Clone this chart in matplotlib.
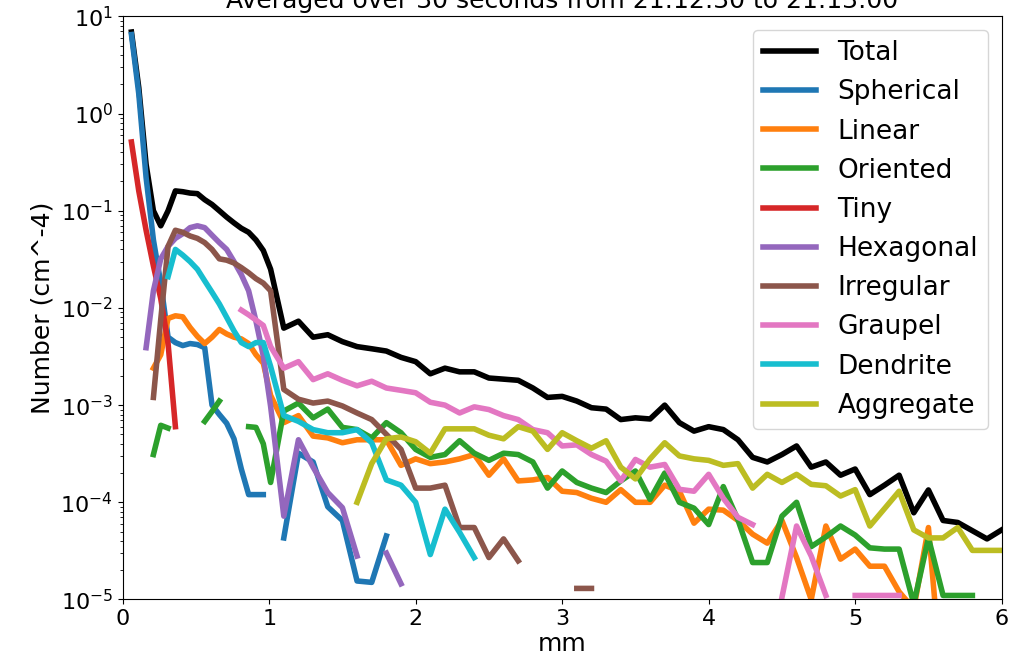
import numpy as np
import matplotlib
matplotlib.use("Agg")
import matplotlib.pyplot as plt

nan = np.nan

# particle size (mm): fine bins below 1 mm, 0.1 mm bins above
size_mm = [0.06, 0.11, 0.16, 0.21, 0.26, 0.31, 0.36, 0.41, 0.46, 0.51,
           0.56, 0.61, 0.66, 0.71, 0.76, 0.81, 0.86, 0.91, 0.96, 1.01,
           1.1, 1.2, 1.3, 1.4, 1.5, 1.6, 1.7, 1.8, 1.9, 2.0,
           2.1, 2.2, 2.3, 2.4, 2.5, 2.6, 2.7, 2.8, 2.9, 3.0,
           3.1, 3.2, 3.3, 3.4, 3.5, 3.6, 3.7, 3.8, 3.9, 4.0,
           4.1, 4.2, 4.3, 4.4, 4.5, 4.6, 4.7, 4.8, 4.9, 5.0,
           5.1, 5.2, 5.3, 5.4, 5.5, 5.6, 5.7, 5.8, 5.9, 6.0]

total = [6.9, 1.85, 0.30, 0.10, 0.07, 0.10, 0.16, 0.157, 0.152, 0.15,
         0.13, 0.116, 0.10, 0.086, 0.075, 0.066, 0.06, 0.05, 0.039, 0.025,
         0.0062, 0.0073, 0.0050, 0.0053, 0.0045, 0.0040, 0.0038, 0.0036, 0.0031, 0.0028,
         0.0021, 0.0024, 0.0022, 0.0022, 0.0019, 0.00185, 0.0018, 0.0015, 0.0012, 0.00123,
         0.0011, 0.00094, 0.00091, 0.00071, 0.00074, 0.00072, 0.0010, 0.00066, 0.00054, 0.0006,
         0.00056, 0.00044, 0.00029, 0.00026, 0.00031, 0.00038, 0.00023, 0.00026, 0.00019, 0.00022,
         0.00012, 0.00015, 0.00019, 7.8e-5, 0.000134, 6.5e-5, 6.2e-5, 5.1e-5, 4.2e-5, 5.2e-5]

spherical = [6.5, 1.6, 0.22, 0.05, 0.018, 0.005, 0.0044, 0.0041, 0.0043, 0.0042,
             0.0039, 0.001, 0.0008, 0.00065, 0.00045, 0.00022, 0.00012, 0.00012, 0.00012, nan,
             4.3e-5, 3.2e-4, 2.6e-4, 9e-5, 6.5e-5, 1.55e-5, 1.5e-5, 4.5e-5, nan, nan,
             nan, nan, nan, nan, nan, nan, nan, nan, nan, nan,
             nan, nan, nan, nan, nan, nan, nan, nan, nan, nan,
             nan, nan, nan, nan, nan, nan, nan, nan, nan, nan,
             nan, nan, nan, nan, nan, nan, nan, nan, nan, nan]

linear = [nan, nan, nan, 0.0024, 0.0033, 0.0078, 0.0083, 0.0081, 0.0063, 0.0051,
          0.0043, 0.005, 0.006, 0.0054, 0.005, 0.0048, 0.0043, 0.0033, 0.0027, 0.00126,
          6.6e-4, 7.8e-4, 4.8e-4, 4.6e-4, 4.1e-4, 4.4e-4, 4.4e-4, 4.4e-4, 2.4e-4, 2.8e-4,
          2.5e-4, 2.6e-4, 2.8e-4, 3.1e-4, 1.9e-4, 2.8e-4, 1.66e-4, 1.7e-4, 1.8e-4, 1.3e-4,
          1.26e-4, 1.1e-4, 1.0e-4, 1.35e-4, 1.0e-4, 1.0e-4, 1.5e-4, 1.3e-4, 6.1e-5, 8.5e-5,
          8.3e-5, 6.5e-5, 4.7e-5, 3.8e-5, 6.5e-5, 2.7e-5, 1.0e-5, 5.7e-5, 2.6e-5, 3.3e-5,
          2.2e-5, 2.2e-5, 1.2e-5, 8e-6, 5.5e-5, 1e-6, nan, nan, nan, nan]

oriented = [nan, nan, nan, 3.1e-4, 6.2e-4, 5.8e-4, nan, nan, nan, nan,
            6.8e-4, 8.6e-4, 1.1e-3, nan, nan, nan, 6.0e-4, 5.9e-4, 4.0e-4, 1.6e-4,
            8.7e-4, 1.05e-3, 7.4e-4, 9.1e-4, 5.9e-4, 5.6e-4, 4.6e-4, 6.6e-4, 5.2e-4, 3.5e-4,
            2.9e-4, 3.1e-4, 4.3e-4, 3.2e-4, 2.7e-4, 3.2e-4, 3.1e-4, 2.6e-4, 1.4e-4, 2.1e-4,
            1.6e-4, 1.4e-4, 1.26e-4, 1.66e-4, 2.1e-4, 1.07e-4, 2.0e-4, 1.0e-4, 8.7e-5, 5.9e-5,
            1.45e-4, 6.6e-5, 2.4e-5, 2.4e-5, 7.2e-5, 1.0e-4, 3.5e-5, 4.4e-5, 5.7e-5, 4.6e-5,
            3.4e-5, 3.3e-5, 3.3e-5, 9e-6, 4.3e-5, 1.1e-5, 1.1e-5, 1.1e-5, nan, nan]

tiny = [0.51, 0.16, 0.063, 0.027, 0.0125, 0.0043, 0.0006, nan, nan, nan,
        nan, nan, nan, nan, nan, nan, nan, nan, nan, nan,
        nan, nan, nan, nan, nan, nan, nan, nan, nan, nan,
        nan, nan, nan, nan, nan, nan, nan, nan, nan, nan,
        nan, nan, nan, nan, nan, nan, nan, nan, nan, nan,
        nan, nan, nan, nan, nan, nan, nan, nan, nan, nan,
        nan, nan, nan, nan, nan, nan, nan, nan, nan, nan]

hexagonal = [nan, nan, 0.0039, 0.015, 0.032, 0.043, 0.052, 0.058, 0.067, 0.07,
             0.067, 0.056, 0.047, 0.04, 0.03, 0.022, 0.015, 0.0073, 0.0032, 0.00097,
             7.2e-5, 4.4e-4, 2.3e-4, 1.26e-4, 8.8e-5, 2.8e-5, nan, 3.0e-5, 1.45e-5, nan,
             nan, nan, nan, nan, nan, nan, nan, nan, nan, nan,
             nan, nan, nan, nan, nan, nan, nan, nan, nan, nan,
             nan, nan, nan, nan, nan, nan, nan, nan, nan, nan,
             nan, nan, nan, nan, nan, nan, nan, nan, nan, nan]

irregular = [nan, nan, nan, 0.0012, 0.0076, 0.043, 0.063, 0.06, 0.055, 0.052,
             0.047, 0.04, 0.032, 0.031, 0.029, 0.026, 0.023, 0.02, 0.018, 0.015,
             1.45e-3, 1.15e-3, 1.05e-3, 1.1e-3, 9.8e-4, 8.3e-4, 7.1e-4, 5.0e-4, 3.5e-4, 1.4e-4,
             1.4e-4, 1.5e-4, 5.5e-5, 5.5e-5, 2.7e-5, 4.2e-5, 2.5e-5, nan, nan, nan,
             1.3e-5, 1.3e-5, nan, nan, nan, nan, nan, nan, nan, nan,
             nan, nan, nan, nan, nan, nan, nan, nan, nan, nan,
             nan, nan, nan, nan, nan, nan, nan, nan, nan, nan]

graupel = [nan, nan, nan, nan, nan, nan, nan, nan, nan, nan,
           nan, nan, nan, nan, nan, 0.0095, 0.0085, 0.0075, 0.0066, 0.004,
           0.0024, 0.0028, 0.00183, 0.0021, 0.0018, 0.00158, 0.00176, 0.0015, 0.00142, 0.00134,
           0.00107, 0.001, 0.00083, 0.00096, 0.0009, 0.00078, 0.00071, 0.00056, 0.00052, 0.00038,
           0.00039, 0.00031, 0.000265, 0.000166, 0.000276, 0.00023, 0.000245, 0.000136, 0.00013, 0.000194,
           0.00011, 7.0e-5, 5.9e-5, nan, 1.05e-5, 5.7e-5, 2.8e-5, 1.1e-5, nan, 1.1e-5,
           1.1e-5, 1.1e-5, 1.1e-5, nan, nan, nan, nan, nan, nan, nan]

dendrite = [nan, nan, nan, nan, nan, 0.021, 0.04, 0.035, 0.03, 0.025,
            0.019, 0.0145, 0.011, 0.008, 0.0058, 0.0044, 0.004, 0.0044, 0.0044, 0.0025,
            7.8e-4, 6.8e-4, 5.6e-4, 5.2e-4, 5.2e-4, 5.6e-4, 4.1e-4, 1.7e-4, 1.5e-4, 1.0e-4,
            2.9e-5, 8.5e-5, 4.9e-5, 2.7e-5, nan, nan, nan, nan, nan, nan,
            nan, nan, nan, nan, nan, nan, nan, nan, nan, nan,
            nan, nan, nan, nan, nan, nan, nan, nan, nan, nan,
            nan, nan, nan, nan, nan, nan, nan, nan, nan, nan]

aggregate = [nan, nan, nan, nan, nan, nan, nan, nan, nan, nan,
             nan, nan, nan, nan, nan, nan, nan, nan, nan, nan,
             nan, nan, nan, nan, nan, 1.0e-4, 2.5e-4, 4.5e-4, 4.7e-4, 4.2e-4,
             3.2e-4, 5.7e-4, 5.7e-4, 5.7e-4, 4.9e-4, 4.5e-4, 6.0e-4, 5.4e-4, 3.5e-4, 5.2e-4,
             4.3e-4, 3.6e-4, 4.3e-4, 2.3e-4, 1.74e-4, 2.8e-4, 4.1e-4, 3.0e-4, 2.8e-4, 2.7e-4,
             2.4e-4, 2.5e-4, 1.4e-4, 1.94e-4, 1.6e-4, 1.94e-4, 1.53e-4, 1.48e-4, 1.16e-4, 1.35e-4,
             5.7e-5, 8.6e-5, 1.3e-4, 5.2e-5, 4.3e-5, 4.3e-5, 5.5e-5, 3.2e-5, 3.2e-5, 3.2e-5]

series = [
    ("Total", total, "black"),
    ("Spherical", spherical, "#1f77b4"),
    ("Linear", linear, "#ff7f0e"),
    ("Oriented", oriented, "#2ca02c"),
    ("Tiny", tiny, "#d62728"),
    ("Hexagonal", hexagonal, "#9467bd"),
    ("Irregular", irregular, "#8c564b"),
    ("Graupel", graupel, "#e377c2"),
    ("Dendrite", dendrite, "#17becf"),
    ("Aggregate", aggregate, "#bcbd22"),
]

fig = plt.figure(figsize=(10.12, 6.63), dpi=100)
ax = fig.add_subplot(111)
fig.subplots_adjust(left=0.1212, right=0.9898, bottom=0.0958, top=0.9753)

for name, vals, col in series:
    ax.plot(size_mm, vals, color=col, lw=4, label=name)

ax.set_yscale("log")
ax.set_xlim(0, 6)
ax.set_ylim(1e-5, 10)
ax.tick_params(labelsize=16)
ax.set_xlabel("mm", fontsize=18, labelpad=2)
ax.set_ylabel("Number (cm^-4)", fontsize=18)
ax.set_title("Averaged over 30 seconds from 21:12:30 to 21:13:00", fontsize=18)
ax.legend(loc="upper right", fontsize=19, handlelength=2.0, labelspacing=0.5)

fig.savefig("out.png", dpi=100)
